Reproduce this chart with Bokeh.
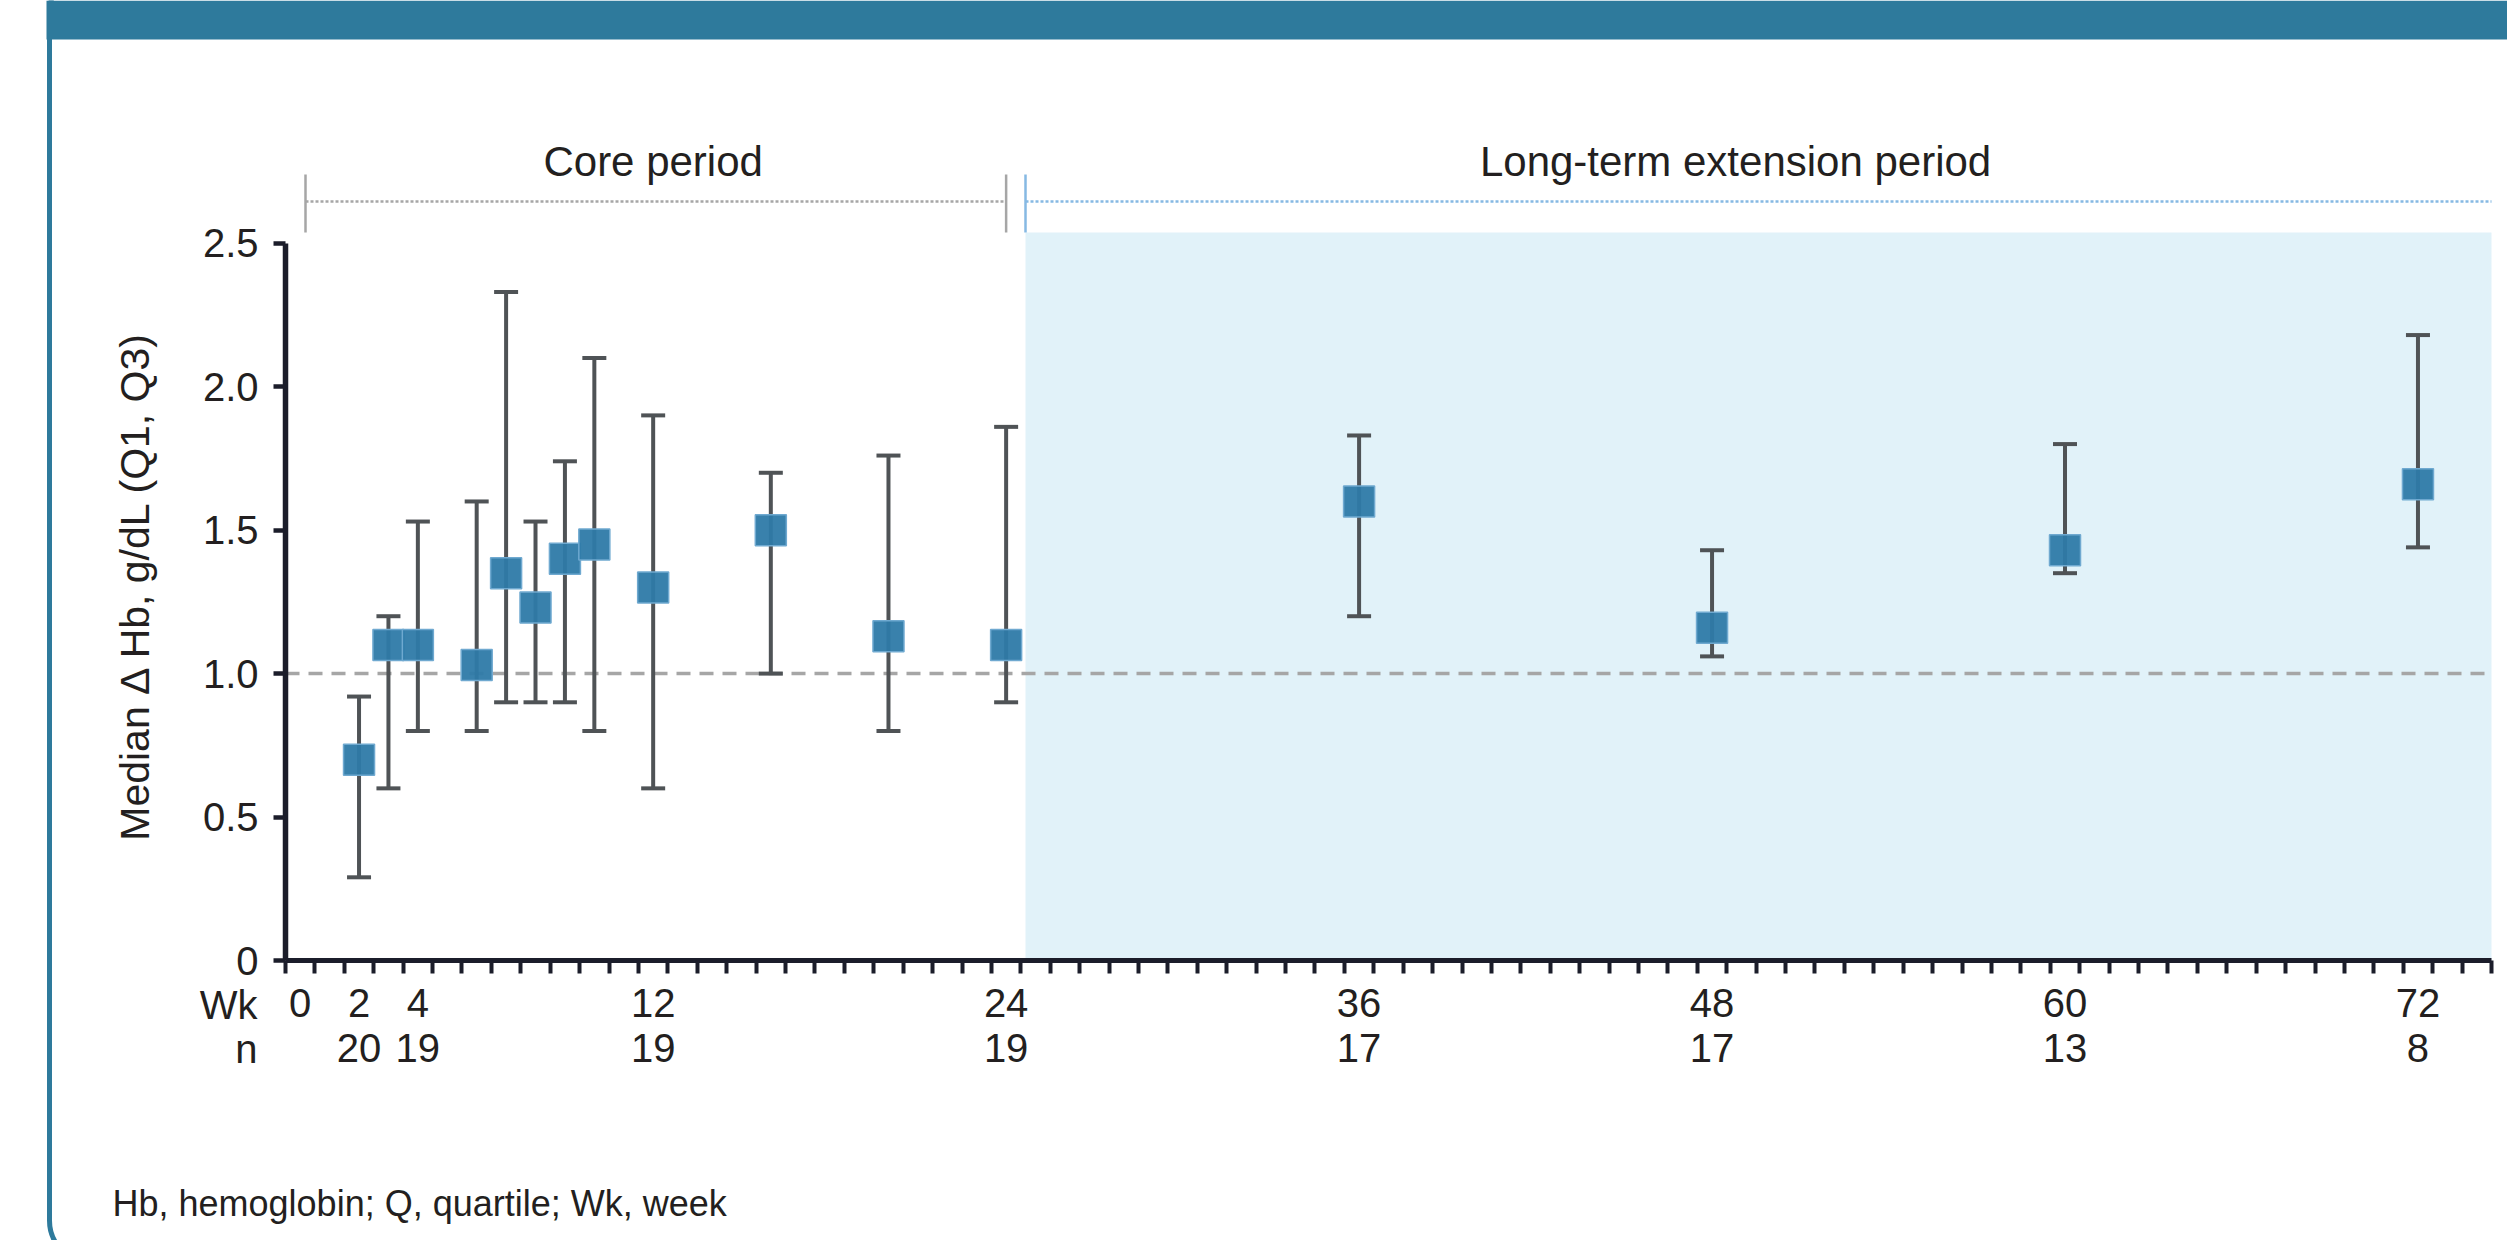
import numpy as np
from bokeh.plotting import figure
from bokeh.models import (FixedTicker, LinearAxis, Range1d, BoxAnnotation,
                          ColumnDataSource)
from bokeh.embed import file_html
from bokeh.resources import INLINE
from bokeh.core.properties import value

# ---------------- data ----------------
weeks = [2, 3, 4, 6, 7, 8, 9, 10, 12, 16, 20, 24, 36, 48, 60, 72]
median = [0.70, 1.10, 1.10, 1.03, 1.35, 1.23, 1.40, 1.45, 1.30, 1.50, 1.13, 1.10, 1.60, 1.16, 1.43, 1.66]
q1 = [0.29, 0.60, 0.80, 0.80, 0.90, 0.90, 0.90, 0.80, 0.60, 1.00, 0.80, 0.90, 1.20, 1.06, 1.35, 1.44]
q3 = [0.92, 1.20, 1.53, 1.60, 2.33, 1.53, 1.74, 2.10, 1.90, 1.70, 1.76, 1.86, 1.83, 1.43, 1.80, 2.18]

tick_weeks = [0, 2, 4, 12, 24, 36, 48, 60, 72]
n_labels = ["", "20", "19", "19", "19", "17", "17", "13", "8"]
y_ticks = [0, 0.5, 1.0, 1.5, 2.0, 2.5]
y_tick_labels = ["0", "0.5", "1.0", "1.5", "2.0", "2.5"]

period_labels = ["Core period", "Long-term extension period"]
row_labels = ["Wk", "n"]
y_label = "Median \u0394 Hb, g/dL (Q1, Q3)"
footnote = "Hb, hemoglobin; Q, quartile; Wk, week"

# ---------------- layout / style ----------------
W, H = 2507, 1240
FONT = "Liberation Sans"
TEXT = "#231f20"
AXIS = "#1b1d2a"
WHISK = "#4f5356"
BLUE = "#2e7aa8"
TEAL = "#2e7a9c"
SHADE = "#e1f2f9"
GREY_BR = "#a6a6a6"
BLUE_BR = "#86b9e3"
MID = 0.3465                   # em offset between text middle and baseline

X0, X1 = -0.5, 74.5            # extent of the x axis
AX_LEFT, AX_RIGHT = 285, 2491  # pixel positions of the x axis ends
PXW = (AX_RIGHT - AX_LEFT) / (X1 - X0)
Y_ZERO_PX, PXY = 960, 286.9


def wx(px):
    return X0 + (px - AX_LEFT) / PXW


def wy(py):
    return (Y_ZERO_PX - py) / PXY


EXT_START = wx(1025)
CORE_L, CORE_R = wx(305), 24.0
BR_Y, BR_TOP, BR_BOT = wy(201), wy(174), wy(232)

p = figure(width=W, height=H, output_backend="svg", toolbar_location=None,
           x_range=Range1d(wx(0), wx(W)), y_range=Range1d(wy(H), wy(0)),
           min_border_left=0, min_border_right=0, min_border_top=0,
           min_border_bottom=0)
p.outline_line_color = None
p.xgrid.visible = False
p.ygrid.visible = False
p.background_fill_color = "white"
p.border_fill_color = "white"

# card frame: rounded left border + banner
p.add_layout(BoxAnnotation(left=wx(49), right=wx(2800), top=wy(-30), bottom=wy(1262),
                           fill_alpha=0, line_color=TEAL, line_alpha=1, line_width=5,
                           border_radius=42))
p.add_layout(BoxAnnotation(left=wx(46), bottom=wy(39),
                           fill_color=TEAL, fill_alpha=1, line_color=None))

# shaded extension period
p.add_layout(BoxAnnotation(left=EXT_START, right=X1, bottom=0, top=BR_BOT,
                           fill_color=SHADE, fill_alpha=1, line_color=None,
                           level="underlay"))

# x axis (weeks)
xa = p.xaxis[0]
xa.fixed_location = 0
xa.bounds = (X0, X1)
xa.ticker = FixedTicker(ticks=tick_weeks, minor_ticks=list(np.arange(X0, X1 + 0.01, 1.0)))
xa.axis_line_color = AXIS
xa.axis_line_width = 5
xa.major_tick_line_color = None
xa.major_tick_out = 13
xa.major_tick_in = 0
xa.minor_tick_out = 13
xa.minor_tick_in = 0
xa.minor_tick_line_color = AXIS
xa.minor_tick_line_width = 4
xa.major_label_standoff = 15
xa.major_label_text_font = FONT
xa.major_label_text_font_size = "40px"
xa.major_label_text_color = TEXT

# n axis
na = LinearAxis(ticker=FixedTicker(ticks=tick_weeks), fixed_location=0,
                major_label_overrides={w: n for w, n in zip(tick_weeks, n_labels)})
na.axis_line_color = None
na.major_tick_line_color = None
na.minor_tick_line_color = None
na.major_tick_out = 0
na.major_tick_in = 0
na.major_label_standoff = 73
na.major_label_text_font = FONT
na.major_label_text_font_size = "40px"
na.major_label_text_color = TEXT
p.add_layout(na, "below")

# y axis
ya = p.yaxis[0]
ya.fixed_location = X0
ya.bounds = (0, 2.5)
ya.ticker = FixedTicker(ticks=y_ticks)
ya.major_label_overrides = {t: s for t, s in zip(y_ticks, y_tick_labels)}
ya.axis_line_color = AXIS
ya.axis_line_width = 5.5
ya.major_tick_line_color = AXIS
ya.major_tick_line_width = 4.5
ya.major_tick_out = 12
ya.major_tick_in = 0
ya.minor_tick_line_color = None
ya.major_label_standoff = 15
ya.major_label_text_font = FONT
ya.major_label_text_font_size = "40px"
ya.major_label_text_color = TEXT

# y axis title
p.text(x=[wx(134.5)], y=[wy(585)], text=[y_label], angle=np.pi / 2,
       text_align="center", text_baseline="middle",
       text_font=value(FONT), text_font_size="41px", text_color=TEXT)

# reference line at 1.0
p.segment(x0=[X0], y0=[1.0], x1=[X1], y1=[1.0], line_color="#a6a6a6",
          line_width=3.5, line_dash="14 9")

# period brackets
p.segment(x0=[CORE_L, EXT_START], y0=[BR_Y, BR_Y], x1=[CORE_R, X1], y1=[BR_Y, BR_Y],
          line_color=[GREY_BR, BLUE_BR], line_width=2.5, line_dash="3 2")
p.segment(x0=[CORE_L, CORE_R, EXT_START], y0=[BR_BOT] * 3,
          x1=[CORE_L, CORE_R, EXT_START], y1=[BR_TOP] * 3,
          line_color=[GREY_BR, GREY_BR, BLUE_BR], line_width=2.5)
p.text(x=[12.0, 48.8], y=[wy(176 - MID * 42)] * 2, text=period_labels,
       text_align="center", text_baseline="middle",
       text_font=value(FONT), text_font_size="42px", text_color=TEXT)

# data: whiskers, caps, medians
src = ColumnDataSource(dict(week=weeks, median=median, q1=q1, q3=q3))
p.segment(x0="week", y0="q1", x1="week", y1="q3", source=src,
          line_color=WHISK, line_width=4)
p.scatter("week", "q1", marker="dash", size=24, line_color=WHISK, line_width=4, source=src)
p.scatter("week", "q3", marker="dash", size=24, line_color=WHISK, line_width=4, source=src)
p.scatter("week", "median", marker="square", size=31, fill_color=BLUE, fill_alpha=0.95,
          line_color="#6fa9d0", line_width=1.5, source=src)

# row labels (Wk / n) and footnote
p.text(x=[wx(257)] * 2, y=[wy(1018 - MID * 40), wy(1062 - MID * 40)], text=row_labels,
       text_align="right", text_baseline="middle",
       text_font=value(FONT), text_font_size="40px", text_color=TEXT)
p.text(x=[wx(112)], y=[wy(1215 - MID * 36)], text=[footnote],
       text_align="left", text_baseline="middle",
       text_font=value(FONT), text_font_size="36px", text_color=TEXT)

open("out.html", "w").write(file_html(p, INLINE))
